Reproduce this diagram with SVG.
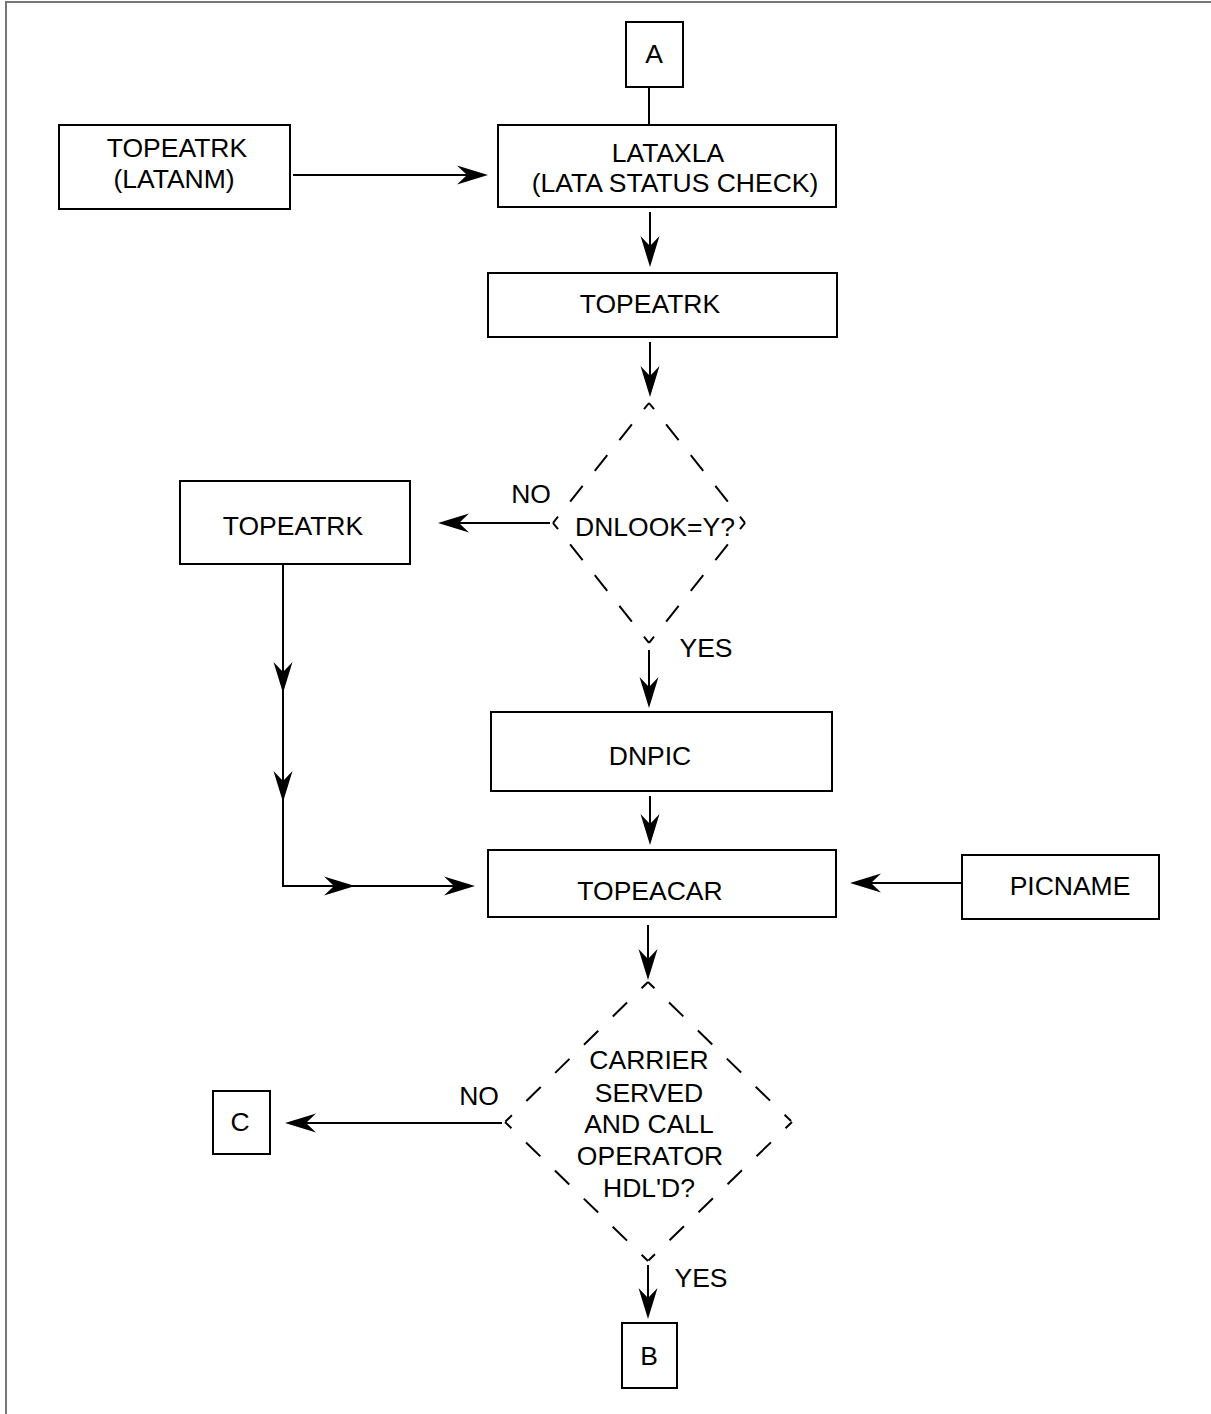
<svg xmlns="http://www.w3.org/2000/svg" xmlns:xlink="http://www.w3.org/1999/xlink" width="1211" height="1414" viewBox="0 0 1211 1414">
<style>
  .box{fill:#fff;stroke:#000;stroke-width:2}
  .t{font-family:"Liberation Sans",Arial,sans-serif;font-size:26.5px;fill:#000;text-anchor:middle}
  .ln{stroke:#000;stroke-width:2;fill:none}
  .d1{stroke:#000;stroke-width:2;stroke-dasharray:8 19.4 20 19.4 20 19.4 20 19.4 8 100}
  .d2{stroke:#000;stroke-width:2;stroke-dasharray:9 20.3 20 20.3 20 20.3 20 20.3 20 20.3 9 100}
  .frame{stroke:#777;stroke-width:2;fill:none}
</style>
<defs>
  <path id="ah" d="M0,0 L-31,-9.5 L-21,0 L-31,9.5 Z" fill="#000"/>
</defs>
<path class="frame" d="M6,1414 L6,2 L1211,2"/>

<g id="connectors">
  <line class="ln" x1="649" y1="87" x2="649" y2="125"/>
  <line class="ln" x1="293" y1="175" x2="480" y2="175"/>
  <use xlink:href="#ah" transform="translate(488,175)"/>
  <line class="ln" x1="650" y1="212" x2="650" y2="260"/>
  <use xlink:href="#ah" transform="translate(650,267) rotate(90)"/>
  <line class="ln" x1="650" y1="342" x2="650" y2="390"/>
  <use xlink:href="#ah" transform="translate(650,397) rotate(90)"/>
  <line class="ln" x1="550" y1="523" x2="445" y2="523"/>
  <use xlink:href="#ah" transform="translate(438,523) rotate(180)"/>
  <line class="ln" x1="649" y1="650" x2="649" y2="700"/>
  <use xlink:href="#ah" transform="translate(649,708) rotate(90)"/>
  <polyline class="ln" points="283,565 283,886 468,886"/>
  <use xlink:href="#ah" transform="translate(283,693) rotate(90)"/>
  <use xlink:href="#ah" transform="translate(283,802) rotate(90)"/>
  <use xlink:href="#ah" transform="translate(355,886)"/>
  <use xlink:href="#ah" transform="translate(475,886)"/>
  <line class="ln" x1="650" y1="796" x2="650" y2="838"/>
  <use xlink:href="#ah" transform="translate(650,845) rotate(90)"/>
  <line class="ln" x1="962" y1="883" x2="857" y2="883"/>
  <use xlink:href="#ah" transform="translate(850,883) rotate(180)"/>
  <line class="ln" x1="648" y1="925" x2="648" y2="973"/>
  <use xlink:href="#ah" transform="translate(648,980) rotate(90)"/>
  <line class="ln" x1="502" y1="1123" x2="292" y2="1123"/>
  <use xlink:href="#ah" transform="translate(285,1123) rotate(180)"/>
  <line class="ln" x1="648" y1="1265" x2="648" y2="1312"/>
  <use xlink:href="#ah" transform="translate(648,1319) rotate(90)"/>
</g>

<g id="nodeA">
  <rect class="box" x="626" y="22" width="57" height="65"/>
  <text class="t" x="654" y="63">A</text>
</g>
<g id="nodeLatanm">
  <rect class="box" x="59" y="125" width="231" height="84"/>
  <text class="t" x="177" y="157">TOPEATRK</text>
  <text class="t" x="174" y="188">(LATANM)</text>
</g>
<g id="nodeLataxla">
  <rect class="box" x="498" y="125" width="338" height="82"/>
  <text class="t" x="668" y="162">LATAXLA</text>
  <text class="t" x="675" y="192">(LATA STATUS CHECK)</text>
</g>
<g id="nodeTopeatrk1">
  <rect class="box" x="488" y="273" width="349" height="64"/>
  <text class="t" x="650" y="313">TOPEATRK</text>
</g>
<g id="nodeDnlook">
  <line class="d1" x1="649" y1="403" x2="553" y2="523"/>
  <line class="d1" x1="649" y1="403" x2="745" y2="523"/>
  <line class="d1" x1="553" y1="523" x2="649" y2="643"/>
  <line class="d1" x1="745" y1="523" x2="649" y2="643"/>
  <text class="t" x="655" y="536">DNLOOK=Y?</text>
  <text class="t" x="531" y="503">NO</text>
  <text class="t" x="706" y="657">YES</text>
</g>
<g id="nodeTopeatrk2">
  <rect class="box" x="180" y="481" width="230" height="83"/>
  <text class="t" x="293" y="535">TOPEATRK</text>
</g>
<g id="nodeDnpic">
  <rect class="box" x="491" y="712" width="341" height="79"/>
  <text class="t" x="650" y="765">DNPIC</text>
</g>
<g id="nodeTopeacar">
  <rect class="box" x="488" y="850" width="348" height="67"/>
  <text class="t" x="650" y="900">TOPEACAR</text>
</g>
<g id="nodePicname">
  <rect class="box" x="962" y="855" width="197" height="64"/>
  <text class="t" x="1070" y="895">PICNAME</text>
</g>
<g id="nodeCarrier">
  <line class="d2" x1="648" y1="982" x2="505" y2="1122"/>
  <line class="d2" x1="648" y1="982" x2="792" y2="1122"/>
  <line class="d2" x1="505" y1="1122" x2="648" y2="1261"/>
  <line class="d2" x1="792" y1="1122" x2="648" y2="1261"/>
  <text class="t" x="649" y="1069">CARRIER</text>
  <text class="t" x="649" y="1102">SERVED</text>
  <text class="t" x="649" y="1133">AND CALL</text>
  <text class="t" x="650" y="1165">OPERATOR</text>
  <text class="t" x="649" y="1197">HDL'D?</text>
  <text class="t" x="479" y="1105">NO</text>
  <text class="t" x="701" y="1287">YES</text>
</g>
<g id="nodeC">
  <rect class="box" x="213" y="1091" width="57" height="63"/>
  <text class="t" x="240" y="1131">C</text>
</g>
<g id="nodeB">
  <rect class="box" x="622" y="1323" width="55" height="65"/>
  <text class="t" x="649" y="1365">B</text>
</g>
</svg>
